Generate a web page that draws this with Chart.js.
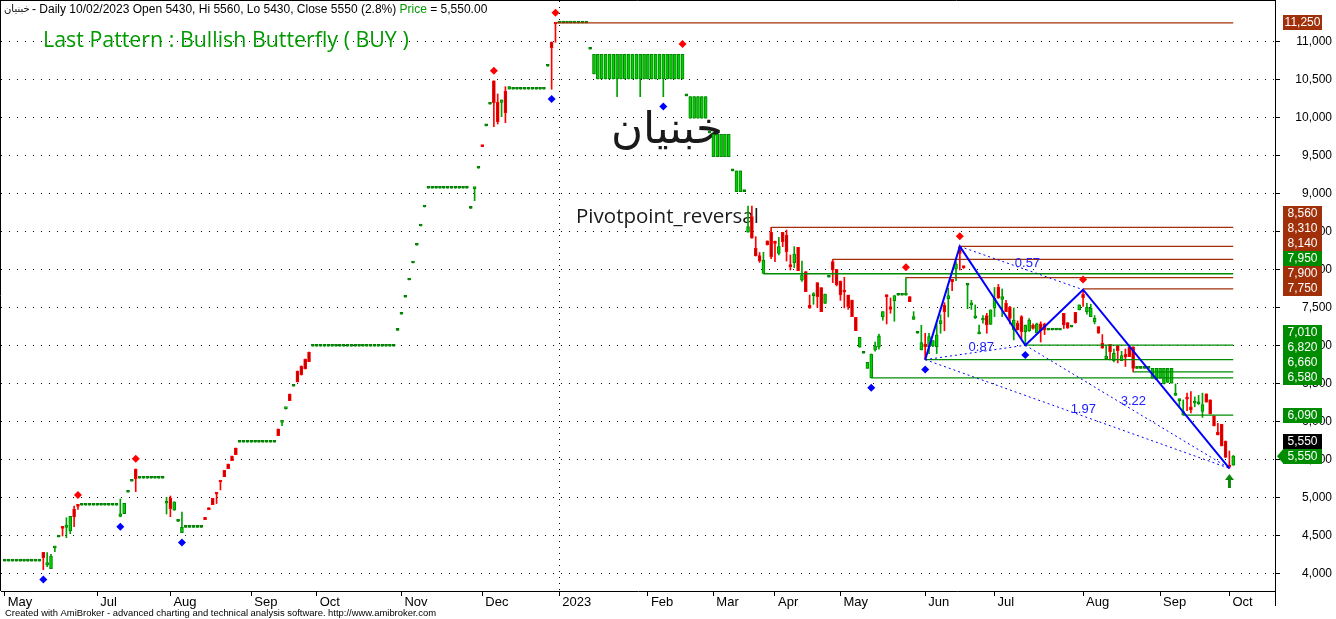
<!DOCTYPE html>
<html><head><meta charset="utf-8">
<script src="https://cdn.jsdelivr.net/npm/chart.js@4/dist/chart.umd.min.js"></script>
<style>html,body{margin:0;padding:0;background:#fff;overflow:hidden}#wrap{width:1336px;height:619px}</style>
</head><body><div id="wrap"><canvas id="c" width="1336" height="619"></canvas></div>
<script>
// ---------------- DATA ----------------
const symbolName = 'خبنیان';
const titleText = '- Daily 10/02/2023 Open 5430, Hi 5560, Lo 5430, Close 5550 (2.8%) ';
const priceText = '= 5,550.00';
const patternText = 'Last Pattern : Bullish Butterfly ( BUY )';
const systemText = 'Pivotpoint_reversal';
const footerText = 'Created with AmiBroker - advanced charting and technical analysis software. http://www.amibroker.com';

const opens = [
4170,4170,4170,4170,4170,4170,4170,4170,4170,4170,
4285,4120,4070,4345,4487,4614,4614,4570,4851,4904,
4904,4904,4904,4904,4904,4904,4904,4904,4904,4904,
4756,4793,5075,5220,5381,5259,5259,5259,5259,5259,
5259,5259,4930,4996,4838,4693,4543,4614,4614,4614,
4614,4614,4746,4868,4996,5062,5220,5364,5447,5552,
5657,5733,5733,5733,5733,5733,5733,5733,5733,5733,
5733,5908,5995,6175,6368,6470,6671,6737,6829,6921,
6996,6996,6996,6996,6996,6996,6996,6996,6996,6996,
6996,6996,6996,6996,6996,6996,6996,6996,6996,6996,
6996,6996,7206,7417,7641,7868,8092,8325,8579,8829,
9075,9075,9075,9075,9075,9075,9075,9075,9075,9075,
9075,8811,9070,9338,9630,9895,10180,10487,10206,10206,
10355,10380,10378,10378,10378,10378,10378,10378,10378,10378,
10378,10680,11000,11250,11250,11250,11250,11250,11250,11250,
11250,11250,10904,10580,10513,10513,10513,10513,10513,10513,
10513,10513,10513,10513,10513,10513,10513,10513,10513,10513,
10513,10513,10513,10513,10513,10513,10513,10290,9996,9996,
9996,9996,9996,9803,9490,9490,9490,9490,9490,9303,
9030,9030,9030,8496,8702,8286,8190,7956,8382,8496,
8373,8219,8496,8460,8065,8096,8298,7867,7978,7536,
7662,7833,7768,7561,7904,8110,8009,7855,7728,7671,
7605,7377,6983,6904,6706,6580,6948,6983,7386,7671,
7517,7596,7667,7667,7667,7649,7350,7167,6948,7026,
6992,7000,6992,7290,7536,7623,7877,8009,8307,8050,
7800,7540,7370,7160,7342,7400,7285,7496,7772,7614,
7562,7509,7210,7298,7386,7188,7200,7276,7167,7290,
7290,7210,7210,7210,7210,7430,7307,7250,7443,7474,
7680,7452,7386,7320,7254,7035,6833,7022,6807,7004,
6807,6890,6990,6990,6706,6706,6706,6706,6575,6560,
6575,6500,6520,6510,6350,6280,6092,6320,6200,6250,
6240,6140,6370,6290,6082,5868,5970,5750,5430,5430];

const highs = [
4170,4170,4170,4170,4170,4170,4170,4170,4170,4170,
4285,4280,4259,4351,4487,4614,4740,4759,4894,4904,
4904,4904,4904,4904,4904,4904,4904,4904,4904,4904,
4987,4930,5075,5220,5381,5259,5259,5259,5259,5259,
5259,5259,5009,5026,4949,4693,4816,4614,4614,4614,
4614,4614,4746,4868,4996,5062,5220,5364,5447,5552,
5657,5733,5733,5733,5733,5733,5733,5733,5733,5733,
5733,5908,6000,6180,6368,6470,6671,6737,6829,6921,
6996,6996,6996,6996,6996,6996,6996,6996,6996,6996,
6996,6996,6996,6996,6996,6996,6996,6996,6996,6996,
6996,6996,7206,7417,7641,7868,8092,8325,8579,8829,
9075,9075,9075,9075,9075,9075,9075,9075,9075,9075,
9075,8811,9075,9338,9630,9895,10180,10487,10316,10237,
10412,10412,10378,10378,10378,10378,10378,10378,10378,10378,
10378,10680,11000,11250,11250,11250,11250,11250,11250,11250,
11250,11250,10904,10838,10838,10838,10838,10838,10838,10838,
10838,10838,10838,10838,10838,10838,10838,10838,10838,10838,
10838,10838,10838,10838,10838,10838,10838,10290,10280,10280,
10280,10280,10280,9803,9785,9785,9785,9785,9785,9303,
9303,9303,9030,8842,8842,8438,8230,8233,8382,8562,
8380,8430,8496,8525,8197,8307,8298,8117,7978,7671,
7702,7833,7768,7684,7904,8140,8009,7855,7904,7671,
7605,7377,7114,6904,6785,6894,7050,7157,7452,7671,
7632,7662,7667,7667,7900,7649,7452,7167,7273,7167,
7167,7070,7290,7412,7570,7760,7877,8110,8310,8050,
7800,7600,7540,7274,7400,7430,7474,7770,7810,7750,
7600,7520,7500,7330,7400,7276,7360,7290,7300,7318,
7300,7210,7210,7210,7210,7430,7307,7250,7443,7540,
7740,7560,7549,7400,7254,7150,7000,7022,6960,7010,
6930,6960,6990,6990,6706,6706,6706,6706,6706,6706,
6706,6706,6706,6706,6500,6300,6290,6380,6400,6330,
6350,6380,6370,6290,6082,5983,5970,5750,5618,5560];

const lows = [
4170,4170,4170,4170,4170,4170,4170,4170,4170,4170,
4057,4095,4070,4293,4487,4500,4478,4530,4622,4851,
4904,4904,4904,4904,4904,4904,4904,4904,4904,4904,
4752,4793,5075,5220,5083,5259,5259,5259,5259,5259,
5259,5259,4789,4754,4838,4693,4543,4614,4614,4614,
4614,4614,4714,4846,4912,4927,5106,5280,5385,5490,
5570,5733,5733,5733,5733,5733,5733,5733,5733,5733,
5733,5820,5950,6167,6280,6470,6526,6618,6697,6793,
6996,6996,6996,6996,6996,6996,6996,6996,6996,6996,
6996,6996,6996,6996,6996,6996,6996,6996,6996,6996,
6996,6996,7206,7417,7641,7868,8092,8325,8579,8829,
9075,9075,9075,9075,9075,9075,9075,9075,9075,9075,
9075,8811,8912,9338,9622,9895,10180,9885,9920,10017,
9938,10380,10378,10378,10378,10378,10378,10378,10378,10378,
10378,10680,10378,10996,11250,11250,11250,11250,11250,11250,
11250,11250,10904,10580,10513,10513,10513,10513,10513,10280,
10513,10513,10513,10513,10513,10280,10513,10513,10513,10513,
10513,10280,10513,10513,10513,10513,10513,10290,9996,9996,
9996,9996,9996,9803,9490,9490,9490,9490,9490,9303,
9030,9030,9030,8496,8417,8184,8100,7956,8329,8150,
8110,8197,8307,8117,8000,8030,7990,7849,7715,7496,
7548,7508,7452,7561,7904,7833,7790,7600,7500,7480,
7386,7201,6983,6904,6706,6580,6930,6957,7338,7290,
7430,7325,7667,7667,7667,7583,7350,7167,6948,6820,
6900,6990,6900,7167,7200,7382,7728,7860,8000,8020,
7490,7480,7360,7160,7300,7167,7285,7386,7628,7386,
7452,7290,7080,7210,7100,7010,7190,7220,7167,7052,
7150,7210,7210,7210,7210,7230,7233,7250,7300,7474,
7520,7420,7386,7290,7167,6970,6830,6817,6790,6777,
6807,6730,6860,6660,6706,6706,6706,6706,6575,6560,
6575,6500,6520,6510,6350,6200,6090,6150,6120,6200,
6230,6060,6260,6105,5948,5830,5684,5535,5390,5430];

const closes = [
4170,4170,4170,4170,4170,4170,4170,4170,4170,4170,
4214,4150,4237,4351,4487,4600,4644,4759,4750,4890,
4904,4904,4904,4904,4904,4904,4904,4904,4904,4904,
4790,4930,5075,5220,5254,5259,5259,5259,5259,5259,
5259,5259,4940,4859,4949,4693,4614,4614,4614,4614,
4614,4614,4714,4846,4912,5050,5210,5280,5385,5490,
5570,5733,5733,5733,5733,5733,5733,5733,5733,5733,
5733,5820,6000,6180,6280,6470,6526,6618,6697,6793,
6996,6996,6996,6996,6996,6996,6996,6996,6996,6996,
6996,6996,6996,6996,6996,6996,6996,6996,6996,6996,
6996,6996,7206,7417,7641,7868,8092,8325,8579,8829,
9075,9075,9075,9075,9075,9075,9075,9075,9075,9075,
9075,8811,9075,9338,9622,9895,10180,10201,9951,10237,
10070,10412,10378,10378,10378,10378,10378,10378,10378,10378,
10378,10680,10925,11236,11250,11250,11250,11250,11250,11250,
11250,11250,10904,10838,10838,10838,10838,10838,10838,10838,
10838,10838,10838,10838,10838,10838,10838,10838,10838,10838,
10838,10838,10838,10838,10838,10838,10838,10290,10280,10280,
10280,10280,10280,9803,9785,9785,9785,9785,9785,9303,
9303,9303,9030,8570,8417,8184,8120,8131,8329,8175,
8350,8307,8373,8241,8043,8210,7990,7935,7715,7496,
7684,7649,7452,7684,7904,8000,7803,7671,7710,7517,
7386,7201,7114,6904,6785,6894,7000,7132,7452,7649,
7482,7662,7667,7667,7680,7583,7386,7167,7044,6992,
7123,7070,7145,7333,7452,7662,7846,8080,8219,8030,
7800,7560,7380,7170,7360,7276,7474,7628,7628,7649,
7452,7364,7342,7210,7188,7276,7342,7230,7290,7200,
7210,7210,7210,7210,7210,7276,7233,7250,7307,7540,
7636,7509,7496,7364,7167,6970,6868,6925,6904,6938,
6873,6852,6860,6706,6706,6706,6706,6706,6706,6706,
6706,6706,6706,6706,6370,6290,6136,6300,6157,6272,
6260,6230,6260,6105,5948,5830,5684,5535,5404,5550];

// month ticks (bar index of first bar of month) and their labels
const monthTickIdx = [0, 24, 43, 64, 81, 103, 124, 144, 167, 184, 200, 217, 239, 257, 280, 300, 318];
const monthLabels  = ['May','Jul','Aug','Sep','Oct','Nov','Dec','2023','Feb','Mar','Apr','May','Jun','Jul','Aug','Sep','Oct'];
const yTickValues = [4000,4500,5000,5500,6000,6500,7000,7500,8000,8500,9000,9500,10000,10500,11000];

// support / resistance levels (value, start bar, r = resistance brown, g = support green)
const levelValues   = [11250, 8560, 8310, 8140, 7950, 7900, 7750, 7010, 6820, 6660, 6580, 6090];
const levelStartIdx = [143,   199,  248,  215,  197,  234,  280,  265,  239,  293,  225,  306];
const levelKinds    = ['r',   'r',  'r',  'r',  'g',  'r',  'r',  'g',  'g',  'g',  'g',  'g'];

// swing markers
const swingHighIdx = [19, 34, 127, 143, 176, 234, 248, 280];
const swingLowIdx  = [10, 30, 46, 142, 171, 225, 239, 265];

// harmonic pattern X A B C D
const patternIdx = [239, 248, 265, 280, 318];
const patternVal = [6820, 8310, 7010, 7740, 5390];
const ratioPairs  = [[0,2],[1,3],[2,4],[0,4]];
const ratioLabels = ['0.87','0.57','3.22','1.97'];
const signalIdx = 318;

// ---------------- STYLE ----------------
const BROWN = '#a0300a', GREENL = '#008c00', BLUE = '#0000ff';
const lastIdx = closes.length - 1;

const arrowImg = document.createElement('canvas');
arrowImg.width = 9; arrowImg.height = 14;
(function(){const a = arrowImg.getContext('2d'); a.fillStyle = '#0a8a0a'; a.beginPath();
 a.moveTo(4.5,0); a.lineTo(9,6); a.lineTo(6,6); a.lineTo(6,14); a.lineTo(3,14); a.lineTo(3,6); a.lineTo(0,6); a.closePath(); a.fill();})();

const isUp = i => closes[i] >= opens[i];
const isFlat = i => closes[i] === opens[i];

const datasets = [];
levelValues.forEach((v, k) => {
  datasets.push({type:'line', data:[{x:levelStartIdx[k], y:v}, {x:lastIdx, y:v}],
    borderColor: levelKinds[k] === 'r' ? BROWN : GREENL, borderWidth:1.3, pointRadius:0, order:1});
});
datasets.push({type:'line', data: patternIdx.map((x,k)=>({x, y:patternVal[k]})), borderColor:BLUE, borderWidth:2, pointRadius:0, order:0});
ratioPairs.forEach(([a,b]) => {
  datasets.push({type:'line', data:[{x:patternIdx[a], y:patternVal[a]},{x:patternIdx[b], y:patternVal[b]}],
    borderColor:BLUE, borderWidth:1, borderDash:[2,3], pointRadius:0, order:0});
});
datasets.push({type:'line', showLine:false, data: swingHighIdx.map(i=>({x:i, y:highs[i]+135})),
  pointStyle:'rectRot', pointRadius:4, pointBackgroundColor:'#ff0000', pointBorderColor:'#ff0000', pointBorderWidth:0, order:0});
datasets.push({type:'line', showLine:false, data: swingLowIdx.map(i=>({x:i, y:lows[i]-130})),
  pointStyle:'rectRot', pointRadius:4, pointBackgroundColor:'#0000ff', pointBorderColor:'#0000ff', pointBorderWidth:0, order:0});
datasets.push({type:'line', showLine:false, data:[{x:signalIdx, y:lows[signalIdx]-166}], pointStyle:arrowImg, pointRadius:7, order:0});
datasets.push({type:'bar', grouped:false, order:2, barThickness:3, minBarLength:2, borderWidth:1, borderSkipped:false,
  data: opens.map((o,i)=>({x:i, y:[Math.min(o,closes[i]), Math.max(o,closes[i])]})),
  backgroundColor: c => isFlat(c.dataIndex) ? '#008000' : (isUp(c.dataIndex) ? '#00d000' : '#c00000'),
  borderColor: c => isFlat(c.dataIndex) ? '#008000' : (isUp(c.dataIndex) ? '#008800' : '#ff0000')});
datasets.push({type:'bar', grouped:false, order:3, barThickness:1, borderWidth:0,
  data: highs.map((h,i)=>({x:i, y:[lows[i], h]})),
  backgroundColor: c => isUp(c.dataIndex) ? '#00a000' : '#ff0000'});

const yearTick = monthTickIdx[monthLabels.indexOf('2023')];

const textPlugin = {
  id:'texts',
  beforeDatasetsDraw(chart){
    const ctx = chart.ctx;
    ctx.save();
    ctx.textBaseline = 'alphabetic';
    ctx.fillStyle = '#000';
    ctx.font = '10px "DejaVu Sans"';
    ctx.fillText(symbolName, 4, 12);
    ctx.font = '12px "Liberation Sans"';
    ctx.fillText(titleText, 32, 13);
    let x = 32 + ctx.measureText(titleText).width;
    ctx.fillStyle = '#009a00'; ctx.fillText('Price ', x, 13);
    x += ctx.measureText('Price ').width;
    ctx.fillStyle = '#000'; ctx.fillText(priceText, x, 13);
    const fit = (t, fam, w, base) => { ctx.font = base + 'px ' + fam; return base * w / ctx.measureText(t).width; };
    let fs = fit(patternText, '"Open Sans"', 366, 20);
    ctx.font = fs.toFixed(2) + 'px "Open Sans"'; ctx.fillStyle = '#009a00';
    ctx.fillText(patternText, 43, 47);
    fs = fit(symbolName, '"DejaVu Sans"', 112, 40);
    ctx.font = fs.toFixed(2) + 'px "DejaVu Sans"'; ctx.fillStyle = '#1a1a1a';
    ctx.fillText(symbolName, 611, 143);
    fs = fit(systemText, '"Open Sans"', 183, 20);
    ctx.font = fs.toFixed(2) + 'px "Open Sans"'; ctx.fillStyle = '#1a1a1a';
    ctx.fillText(systemText, 576, 223);
    ctx.restore();
  },
  afterDatasetsDraw(chart){
    const {ctx, scales:{x, y}} = chart;
    ctx.save();
    ctx.font = '13px "Liberation Sans"'; ctx.fillStyle = '#2020ff';
    ctx.textAlign = 'center'; ctx.textBaseline = 'middle';
    ratioPairs.forEach(([a,b], k) => {
      const px = (x.getPixelForValue(patternIdx[a]) + x.getPixelForValue(patternIdx[b])) / 2;
      const py = (y.getPixelForValue(patternVal[a]) + y.getPixelForValue(patternVal[b])) / 2;
      ctx.fillText(ratioLabels[k], px + 6, py - 5);
    });
    ctx.restore();
  },
  afterDraw(chart){
    const {ctx, chartArea:ca, scales:{y}} = chart;
    ctx.save();
    ctx.strokeStyle = '#000'; ctx.lineWidth = 1;
    ctx.beginPath();
    ctx.moveTo(0, 0.5); ctx.lineTo(ca.right + 0.5, 0.5);
    ctx.moveTo(0.5, 0); ctx.lineTo(0.5, ca.bottom);
    ctx.moveTo(Math.round(ca.right) + 0.5, 0); ctx.lineTo(Math.round(ca.right) + 0.5, 606);
    ctx.stroke();
    ctx.font = '10px "Liberation Sans"';
    const fw = ctx.measureText(footerText).width;
    ctx.font = (10 * 432 / fw).toFixed(2) + 'px "Liberation Sans"';
    ctx.fillStyle = '#000'; ctx.textBaseline = 'alphabetic';
    ctx.fillText(footerText, 5, 616);
    const items = levelValues.map((v,k)=>({v, color: levelKinds[k]==='r' ? BROWN : GREENL, arrow:false, rank:1}));
    items.push({v:closes[lastIdx], color:'#000', arrow:false, rank:1});
    items.push({v:closes[lastIdx], color:GREENL, arrow:true, rank:0});
    items.sort((a,b)=> a.v - b.v || a.rank - b.rank);
    let prev = Infinity;
    ctx.font = '12px "Liberation Sans"'; ctx.textAlign = 'center'; ctx.textBaseline = 'middle';
    const bx = ca.right + 8, bw = 39, bh = 15;
    for (const it of items) {
      let py = Math.min(y.getPixelForValue(it.v), prev - bh);
      prev = py;
      ctx.fillStyle = it.color;
      ctx.fillRect(bx, Math.round(py - bh/2), bw, bh);
      if (it.arrow) { ctx.beginPath(); ctx.moveTo(bx - 6, py); ctx.lineTo(bx, py - 7); ctx.lineTo(bx, py + 7); ctx.closePath(); ctx.fill(); }
      ctx.fillStyle = '#fff';
      ctx.fillText(it.v.toLocaleString('en-US'), bx + bw/2, Math.round(py - bh/2) + bh/2 + 0.5);
    }
    ctx.restore();
  }
};

new Chart(document.getElementById('c'), {
  type:'bar',
  data:{datasets},
  options:{
    responsive:false, animation:false, devicePixelRatio:1,
    layout:{autoPadding:false, padding:{left:1, top:1, right:4, bottom:0}},
    plugins:{legend:{display:false}, tooltip:{enabled:false}},
    scales:{
      x:{type:'linear', min:-0.984, max:329.84, offset:false,
        afterBuildTicks: s => { s.ticks = monthTickIdx.map(v=>({value:v})); },
        afterFit: s => { s.height = 28; s.paddingLeft = 0; s.paddingRight = 0; },
        ticks:{autoSkip:false, maxRotation:0, align:'start', labelOffset:3, padding:-1, color:'#000',
          font:{family:'Liberation Sans', size:13}, callback:(v,i)=>monthLabels[i]},
        grid:{offset:false, tickLength:5, tickColor:'#000', color: c => (c.tick && c.tick.value === yearTick) ? '#000' : 'rgba(0,0,0,0)'},
        border:{display:true, color:'#000', dash:[1,5]}},
      y:{type:'linear', position:'right', min:3776, max:11539,
        afterBuildTicks: s => { s.ticks = yTickValues.map(v=>({value:v})); },
        afterFit: s => { s.width = 57; s.paddingTop = 0; s.paddingBottom = 0; },
        ticks:{crossAlign:'far', padding:7, color:'#000', font:{family:'Liberation Sans', size:12},
          callback: v => Number(v).toLocaleString('en-US')},
        grid:{color:'#000', tickLength:5, tickColor:'#000'},
        border:{display:true, color:'#000', dash:[1,7]}}
    }
  },
  plugins:[textPlugin]
});
</script></body></html>
